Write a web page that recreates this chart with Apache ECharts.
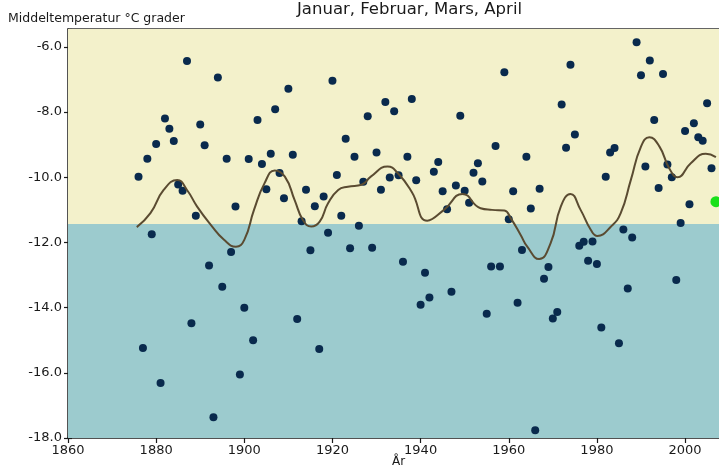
<!DOCTYPE html>
<html>
<head>
<meta charset="utf-8">
<script src="https://cdn.jsdelivr.net/npm/echarts@6/dist/echarts.min.js"></script>
<style>
  html, body { margin: 0; padding: 0; background: #ffffff; }
  #chart { width: 719px; height: 466px; }
</style>
</head>
<body>
<div id="chart"></div>
<script>
// Mean temperature for January-April, one value per year
const firstYear = 1876;
const temps = [
  -9.98, -15.24, -9.43, -11.75, -8.98, -16.31, -8.20, -8.51, -8.89, -10.22,
  -10.41, -6.43, -14.48, -11.18, -8.38, -9.02, -12.71, -17.36, -6.94, -13.36,
  -9.43, -12.29, -10.90, -16.05, -14.00, -9.44, -15.00, -8.24, -9.59, -10.37,
  -9.28, -7.91, -9.87, -10.64, -7.28, -9.31, -14.35, -11.35, -10.38, -12.24,
  -10.89, -15.27, -10.59, -11.70, -7.04, -9.93, -11.18, -8.82, -12.18, -9.37,
  -11.49, -10.14, -8.13, -12.16, -9.24, -10.38, -7.69, -10.01, -7.97, -9.94,
  -12.59, -9.37, -7.60, -10.09, -13.91, -12.93, -13.69, -9.83, -9.53, -10.43,
  -10.98, -13.51, -10.25, -8.11, -10.41, -10.78, -9.86, -9.57, -10.13, -14.19,
  -12.74, -9.04, -12.74, -6.78, -11.29, -10.43, -13.85, -12.23, -9.37, -10.96,
  -17.76, -10.35, -13.11, -12.75, -14.33, -14.13, -7.77, -9.09, -6.55, -8.69,
  -12.10, -11.98, -12.56, -11.97, -12.66, -14.61, -9.98, -9.24, -9.10, -15.09,
  -11.60, -13.41, -11.85, -5.86, -6.87, -9.67, -6.42, -8.24, -10.33, -6.83,
  -9.61, -10.00, -13.15, -11.40, -8.58, -10.83, -8.34, -8.77, -8.88, -7.73,
  -9.72, -10.75
];
const years = temps.map((_, i) => firstYear + i);

// Smoothed trend curve
const trendYears = [
  1875.6, 1878.7, 1881.7, 1884.8, 1887.0, 1889.3, 1892.4, 1895.4, 1898.1, 1900.0,
  1902.2, 1904.6, 1906.9, 1909.2, 1911.4, 1913.3, 1915.2, 1917.1, 1919.0, 1921.3,
  1923.5, 1926.6, 1928.7, 1932.5, 1934.8, 1938.0, 1941.5, 1945.3, 1949.5, 1953.6,
  1956.2, 1959.0, 1960.5, 1962.7, 1964.2, 1966.9, 1969.5, 1971.8, 1974.0, 1976.3,
  1978.6, 1980.1, 1983.2, 1985.4, 1987.7, 1990.0, 1991.9, 1994.2, 1996.4, 1998.3,
  2001.3, 2004.7, 2007.0
];
const trendValues = [
  -11.53, -11.10, -10.39, -10.08, -10.39, -10.90, -11.46, -11.92, -12.13, -11.92,
  -11.00, -10.18, -9.79, -9.98, -10.69, -11.31, -11.51, -11.36, -10.80, -10.39,
  -10.29, -10.23, -9.98, -9.67, -9.87, -10.45, -11.33, -11.00, -10.51, -10.95,
  -11.00, -11.02, -11.27, -11.77, -12.13, -12.51, -12.02, -10.90, -10.51, -11.00,
  -11.61, -11.80, -11.51, -11.10, -10.08, -9.06, -8.77, -9.06, -9.72, -10.00,
  -9.57, -9.28, -9.38
];

// Long-term normal that splits the background into warm/cold bands
const normalTemp = -11.43;

// Axis ranges and tick labels
const xMin = 1860, xMax = 2007.7, xStep = 20;
const yMin = -18, yMax = -5.45, yStep = 2;

const FONT = 'DejaVu Sans';
const INK = '#1a1a1a';

const points = years.map((y, i) => [y, temps[i]]);
const latest = [points[points.length - 1]];
const trend = trendYears.map((y, i) => [y, trendValues[i]]);

const chart = echarts.init(document.getElementById('chart'), null, { renderer: 'canvas' });

const xBase = { type: 'value', min: xMin, max: xMax, interval: xStep, gridIndex: 0, splitLine: { show: false } };
const yBase = { type: 'value', min: yMin, max: yMax, interval: yStep, gridIndex: 0, splitLine: { show: false } };

chart.setOption({
  animation: false,
  backgroundColor: '#ffffff',
  title: [
    { text: 'Januar, Februar, Mars, April', left: 297, top: 1, padding: 0,
      textStyle: { fontFamily: FONT, fontSize: 16.5, fontWeight: 'normal', color: INK } },
    { text: 'Middeltemperatur °C grader', left: 8, top: 12, padding: 0,
      textStyle: { fontFamily: FONT, fontSize: 12.5, fontWeight: 'normal', color: INK } },
    { text: 'År', left: 392, top: 456, padding: 0,
      textStyle: { fontFamily: FONT, fontSize: 12, fontWeight: 'normal', color: INK } }
  ],
  grid: { left: 68, right: 0, top: 29, bottom: 28, containLabel: false },
  xAxis: [
    Object.assign({}, xBase, {
      position: 'bottom',
      axisLine: { show: true, onZero: false, lineStyle: { color: INK, width: 1.5 } },
      axisTick: { show: true, length: 5, lineStyle: { color: INK, width: 1.2 } },
      axisLabel: { color: INK, fontFamily: FONT, fontSize: 13, margin: 6, showMaxLabel: false,
        formatter: v => String(v) }
    }),
    Object.assign({}, xBase, {
      position: 'bottom',
      axisLine: { show: false },
      axisTick: { show: true, inside: true, length: 5, lineStyle: { color: INK, width: 1.2 } },
      axisLabel: { show: false }
    }),
    Object.assign({}, xBase, {
      position: 'top',
      axisLine: { show: true, onZero: false, lineStyle: { color: '#333333', width: 1.5 } },
      axisTick: { show: false },
      axisLabel: { show: false }
    })
  ],
  yAxis: [
    Object.assign({}, yBase, {
      position: 'left',
      axisLine: { show: true, onZero: false, lineStyle: { color: INK, width: 1.5 } },
      axisTick: { show: true, length: 4, lineStyle: { color: INK, width: 1.2 } },
      axisLabel: { color: INK, fontFamily: FONT, fontSize: 13, margin: 6, showMaxLabel: false,
        formatter: v => v.toFixed(1) }
    }),
    Object.assign({}, yBase, {
      position: 'left',
      axisLine: { show: false },
      axisTick: { show: true, inside: true, length: 4, lineStyle: { color: INK, width: 1.2 } },
      axisLabel: { show: false }
    })
  ],
  series: [
    {
      name: 'Middeltemperatur',
      type: 'scatter',
      xAxisIndex: 0, yAxisIndex: 0,
      data: points,
      symbol: 'circle',
      symbolSize: 8,
      itemStyle: { color: '#092a4d', opacity: 1 },
      z: 3,
      markArea: {
        silent: true,
        data: [
          [{ yAxis: normalTemp, itemStyle: { color: '#f3f1cb', opacity: 1 } }, { yAxis: yMax }],
          [{ yAxis: yMin, itemStyle: { color: '#9ccbce', opacity: 1 } }, { yAxis: normalTemp }]
        ]
      }
    },
    {
      name: 'Glidende middel',
      type: 'line',
      xAxisIndex: 0, yAxisIndex: 0,
      data: trend,
      smooth: 0.5,
      showSymbol: false,
      lineStyle: { color: '#5a4b31', width: 2 },
      z: 4
    },
    {
      name: 'Siste år',
      type: 'scatter',
      xAxisIndex: 0, yAxisIndex: 0,
      data: latest,
      symbol: 'circle',
      symbolSize: 11,
      itemStyle: { color: '#19e019', opacity: 1 },
      z: 5
    }
  ]
});
</script>
</body>
</html>
